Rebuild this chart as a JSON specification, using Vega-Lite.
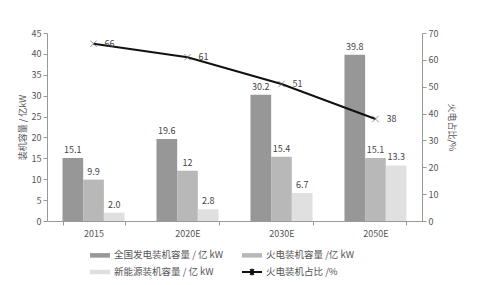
{
  "$schema": "https://vega.github.io/schema/vega-lite/v6.json",
  "width": 375,
  "height": 188,
  "autosize": {"type": "none"},
  "padding": {"left": 47, "top": 33, "right": 67, "bottom": 64},
  "background": "white",
  "config": {
    "view": {"stroke": null},
    "font": "Noto Sans CJK SC",
    "axis": {
      "labelColor": "#555",
      "labelFontSize": 9,
      "domainColor": "#999",
      "tickColor": "#999",
      "tickSize": 4,
      "grid": false,
      "titleFontWeight": "normal",
      "titleColor": "#555",
      "titleFontSize": 9
    },
    "text": {"font": "Noto Sans CJK SC", "fontSize": 9, "fill": "#444"}
  },
  "datasets": {
    "bars": [
      {"year": "2015", "series": "全国发电装机容量 / 亿 kW", "value": 15.1, "label": "15.1"},
      {"year": "2015", "series": "火电装机容量 /亿 kW", "value": 9.9, "label": "9.9"},
      {"year": "2015", "series": "新能源装机容量 / 亿 kW", "value": 2.0, "label": "2.0"},
      {"year": "2020E", "series": "全国发电装机容量 / 亿 kW", "value": 19.6, "label": "19.6"},
      {"year": "2020E", "series": "火电装机容量 /亿 kW", "value": 12, "label": "12"},
      {"year": "2020E", "series": "新能源装机容量 / 亿 kW", "value": 2.8, "label": "2.8"},
      {"year": "2030E", "series": "全国发电装机容量 / 亿 kW", "value": 30.2, "label": "30.2"},
      {"year": "2030E", "series": "火电装机容量 /亿 kW", "value": 15.4, "label": "15.4"},
      {"year": "2030E", "series": "新能源装机容量 / 亿 kW", "value": 6.7, "label": "6.7"},
      {"year": "2050E", "series": "全国发电装机容量 / 亿 kW", "value": 39.8, "label": "39.8"},
      {"year": "2050E", "series": "火电装机容量 /亿 kW", "value": 15.1, "label": "15.1"},
      {"year": "2050E", "series": "新能源装机容量 / 亿 kW", "value": 13.3, "label": "13.3"}
    ],
    "line": [
      {"year": "2015", "series": "火电装机占比 /%", "share": 66},
      {"year": "2020E", "series": "火电装机占比 /%", "share": 61},
      {"year": "2030E", "series": "火电装机占比 /%", "share": 51},
      {"year": "2050E", "series": "火电装机占比 /%", "share": 38}
    ]
  },
  "encoding": {
    "x": {
      "field": "year",
      "type": "ordinal",
      "sort": ["2015", "2020E", "2030E", "2050E"],
      "scale": {"paddingInner": 0.34, "paddingOuter": 0.165},
      "axis": {"title": null, "labelAngle": 0, "tickBand": "extent", "labelPadding": 4}
    }
  },
  "layer": [
    {
      "data": {"name": "bars"},
      "encoding": {
        "xOffset": {
          "field": "series",
          "type": "nominal",
          "sort": ["全国发电装机容量 / 亿 kW", "火电装机容量 /亿 kW", "新能源装机容量 / 亿 kW"],
          "scale": {"paddingInner": 0}
        },
        "y": {
          "field": "value",
          "type": "quantitative",
          "scale": {"domain": [0, 45]},
          "axis": {
            "title": "装机容量 / 亿kW",
            "values": [0, 5, 10, 15, 20, 25, 30, 35, 40, 45],
            "labelPadding": 2,
            "titlePadding": 4
          }
        }
      },
      "layer": [
        {
          "mark": {"type": "bar"},
          "encoding": {
            "color": {
              "field": "series",
              "type": "nominal",
              "scale": {
                "domain": ["全国发电装机容量 / 亿 kW", "火电装机容量 /亿 kW", "新能源装机容量 / 亿 kW", "火电装机占比 /%"],
                "range": ["#979797", "#b8b8b8", "#e0e0e0", "#111111"]
              },
              "legend": {
                "title": null,
                "orient": "none",
                "legendX": 47,
                "legendY": 216,
                "direction": "horizontal",
                "columns": 2,
                "columnPadding": 14,
                "rowPadding": 3,
                "labelFontSize": 9.5,
                "labelColor": "#555",
                "labelOffset": 8,
                "symbolSize": 100,
                "symbolType": "M-2,-0.45H2V0.45H-2Z",
                "encode": {
                  "symbols": {
                    "update": {
                      "shape": {"signal": "datum.value === '火电装机占比 /%' ? 'M-2,0H2M-0.3,-0.6L0.3,0.6M-0.3,0.6L0.3,-0.6' : 'M-2,-0.45H2V0.45H-2Z'"},
                      "fill": {"signal": "datum.value === '火电装机占比 /%' ? 'transparent' : scale('color', datum.value)"},
                      "stroke": {"signal": "datum.value === '火电装机占比 /%' ? '#111' : 'transparent'"},
                      "strokeWidth": {"value": 2},
                      "size": {"value": 100},
                      "opacity": {"value": 1}
                    }
                  }
                }
              }
            }
          }
        },
        {
          "mark": {"type": "text", "dy": -8},
          "encoding": {"text": {"field": "label"}}
        }
      ]
    },
    {
      "data": {"name": "line"},
      "encoding": {
        "y": {
          "field": "share",
          "type": "quantitative",
          "scale": {"domain": [0, 70]},
          "axis": {
            "orient": "right",
            "title": "火电占比/%",
            "values": [0, 10, 20, 30, 40, 50, 60, 70],
            "labelPadding": 2,
            "titlePadding": 9
          }
        }
      },
      "layer": [
        {
          "mark": {"type": "line", "strokeWidth": 2, "color": "#111"},
          "encoding": {}
        },
        {
          "mark": {"type": "point", "shape": "M-1,-1L1,1M-1,1L1,-1", "filled": false, "size": 40, "strokeWidth": 1, "color": "#666"},
          "encoding": {}
        },
        {
          "mark": {"type": "text", "align": "left", "dx": 11},
          "encoding": {"text": {"field": "share"}}
        }
      ]
    }
  ],
  "resolve": {"scale": {"y": "independent"}}
}
